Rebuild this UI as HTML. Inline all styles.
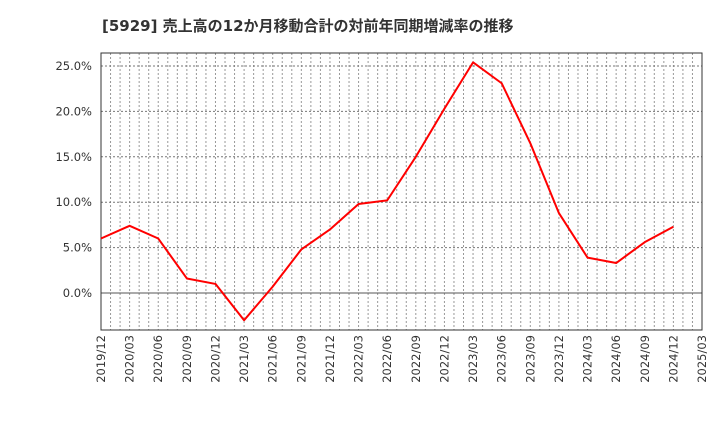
<!DOCTYPE html>
<html><head><meta charset="utf-8"><style>
body{margin:0;background:#fff;width:720px;height:440px;overflow:hidden}
text{font-family:"DejaVu Sans","Noto Sans CJK JP",sans-serif}
</style></head><body>
<svg id="chart" width="720" height="440" xmlns="http://www.w3.org/2000/svg">
<text x="102" y="31" font-size="15" font-weight="bold" fill="#333">[5929]  売上高の12か月移動合計の対前年同期増減率の推移</text>
<g id="grid"></g><g id="axes"></g><g id="series"></g>
</svg>
<script>
const categories=["2019/12","2020/03","2020/06","2020/09","2020/12","2021/03","2021/06","2021/09","2021/12","2022/03","2022/06","2022/09","2022/12","2023/03","2023/06","2023/09","2023/12","2024/03","2024/06","2024/09","2024/12","2025/03"];
const values=[6.0,7.4,6.0,1.6,1.0,-3.0,0.7,4.8,7.0,9.8,10.2,15.0,20.3,25.4,23.1,16.5,8.8,3.9,3.3,5.6,7.3];
const yTicks=[0,5,10,15,20,25];
const yTickLabels=["0.0%","5.0%","10.0%","15.0%","20.0%","25.0%"];
const L=101,R=702,T=53,B=330;
const ns="http://www.w3.org/2000/svg";
function x(i){return L+(R-L)*i/(categories.length-1);}
function y(v){return 293-v*45.4/5;}
function mk(tag,parent,attrs){const e=document.createElementNS(ns,tag);for(const k in attrs)e.setAttribute(k,attrs[k]);document.getElementById(parent).appendChild(e);return e;}
const nMonths=(categories.length-1)*3;
for(let m=1;m<nMonths;m++){const xx=L+(R-L)*m/nMonths;
 const g=mk('line','grid',{x1:xx,x2:xx,y1:T,y2:B,stroke:'#999','stroke-width':1,'stroke-dasharray':'2,2'});
 
 }
yTicks.forEach((t,i)=>{
 const g=mk('line','grid',{x1:L,x2:R,y1:y(t),y2:y(t),stroke:t===0?'#555':'#777','stroke-width':1,'stroke-dasharray':t===0?'none':'2,2'});
 
 
 const lb=mk('text','axes',{x:L-9,y:y(t)+4,'text-anchor':'end','font-size':11.5,fill:'#333'});
 lb.textContent=yTickLabels[i];
 
 
});
const fr=mk('rect','axes',{x:L,y:T,width:R-L,height:B-T,fill:'none',stroke:'#333','stroke-width':1});


categories.forEach((c,i)=>{
 const lb=mk('text','axes',{transform:`translate(${x(i)+4},${B+5}) rotate(-90)`,'text-anchor':'end','font-size':11.5,fill:'#333'});
 lb.textContent=c;
 
 
});
const pl=mk('polyline','series',{points:values.map((v,i)=>x(i)+','+y(v)).join(' '),fill:'none',stroke:'#f00','stroke-width':2,'stroke-linejoin':'round'});


</script>
</body></html>
